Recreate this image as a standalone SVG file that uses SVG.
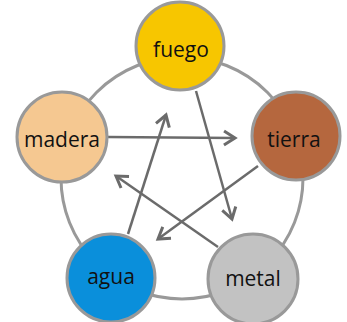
<svg xmlns="http://www.w3.org/2000/svg" width="347" height="322" viewBox="0 0 347 322">
  <style>
    .ring { fill: none; stroke: #999999; stroke-width: 3; }
    .node { stroke: #999999; stroke-width: 3; }
    .label { font-family: "Open Sans", "Noto Sans", sans-serif; font-size: 21px; fill: #111111; text-anchor: middle; }
    .edge { stroke: #6b6b6b; stroke-width: 2.5; fill: none; marker-end: url(#chevron); }
  </style>
  <defs>
    <marker id="chevron" markerUnits="userSpaceOnUse" markerWidth="20" markerHeight="20" viewBox="-14 -10 16 20" refX="0" refY="0" orient="auto">
      <path d="M -11 -7 L 0 0 L -11 7" fill="none" stroke="#6b6b6b" stroke-width="3" stroke-linecap="butt" stroke-linejoin="miter"/>
    </marker>
  </defs>

  <!-- generating cycle ring -->
  <circle class="ring" cx="182" cy="178" r="121"/>

  <!-- overcoming cycle -->
  <g id="connectors">
    <line class="edge" x1="108" y1="137" x2="235" y2="138"/>
    <line class="edge" x1="196" y1="91" x2="232" y2="219"/>
    <line class="edge" x1="258" y1="166" x2="158" y2="239"/>
    <line class="edge" x1="218" y1="247" x2="116" y2="176"/>
    <line class="edge" x1="128" y1="234" x2="166" y2="115"/>
  </g>

  <g id="fuego">
    <circle class="node" cx="180" cy="46" r="44" fill="#F7C600"/>
    <text class="label" x="181" y="57">fuego</text>
  </g>
  <g id="madera">
    <circle class="node" cx="62" cy="137" r="45" fill="#F5C891"/>
    <text class="label" x="62" y="147">madera</text>
  </g>
  <g id="tierra">
    <circle class="node" cx="296" cy="136" r="44" fill="#B5673E"/>
    <text class="label" x="294" y="147">tierra</text>
  </g>
  <g id="agua">
    <circle class="node" cx="111" cy="278" r="44" fill="#0A8FDB"/>
    <text class="label" x="111" y="284">agua</text>
  </g>
  <g id="metal">
    <circle class="node" cx="253" cy="279" r="45" fill="#C2C2C2"/>
    <text class="label" x="253" y="286">metal</text>
  </g>
</svg>
